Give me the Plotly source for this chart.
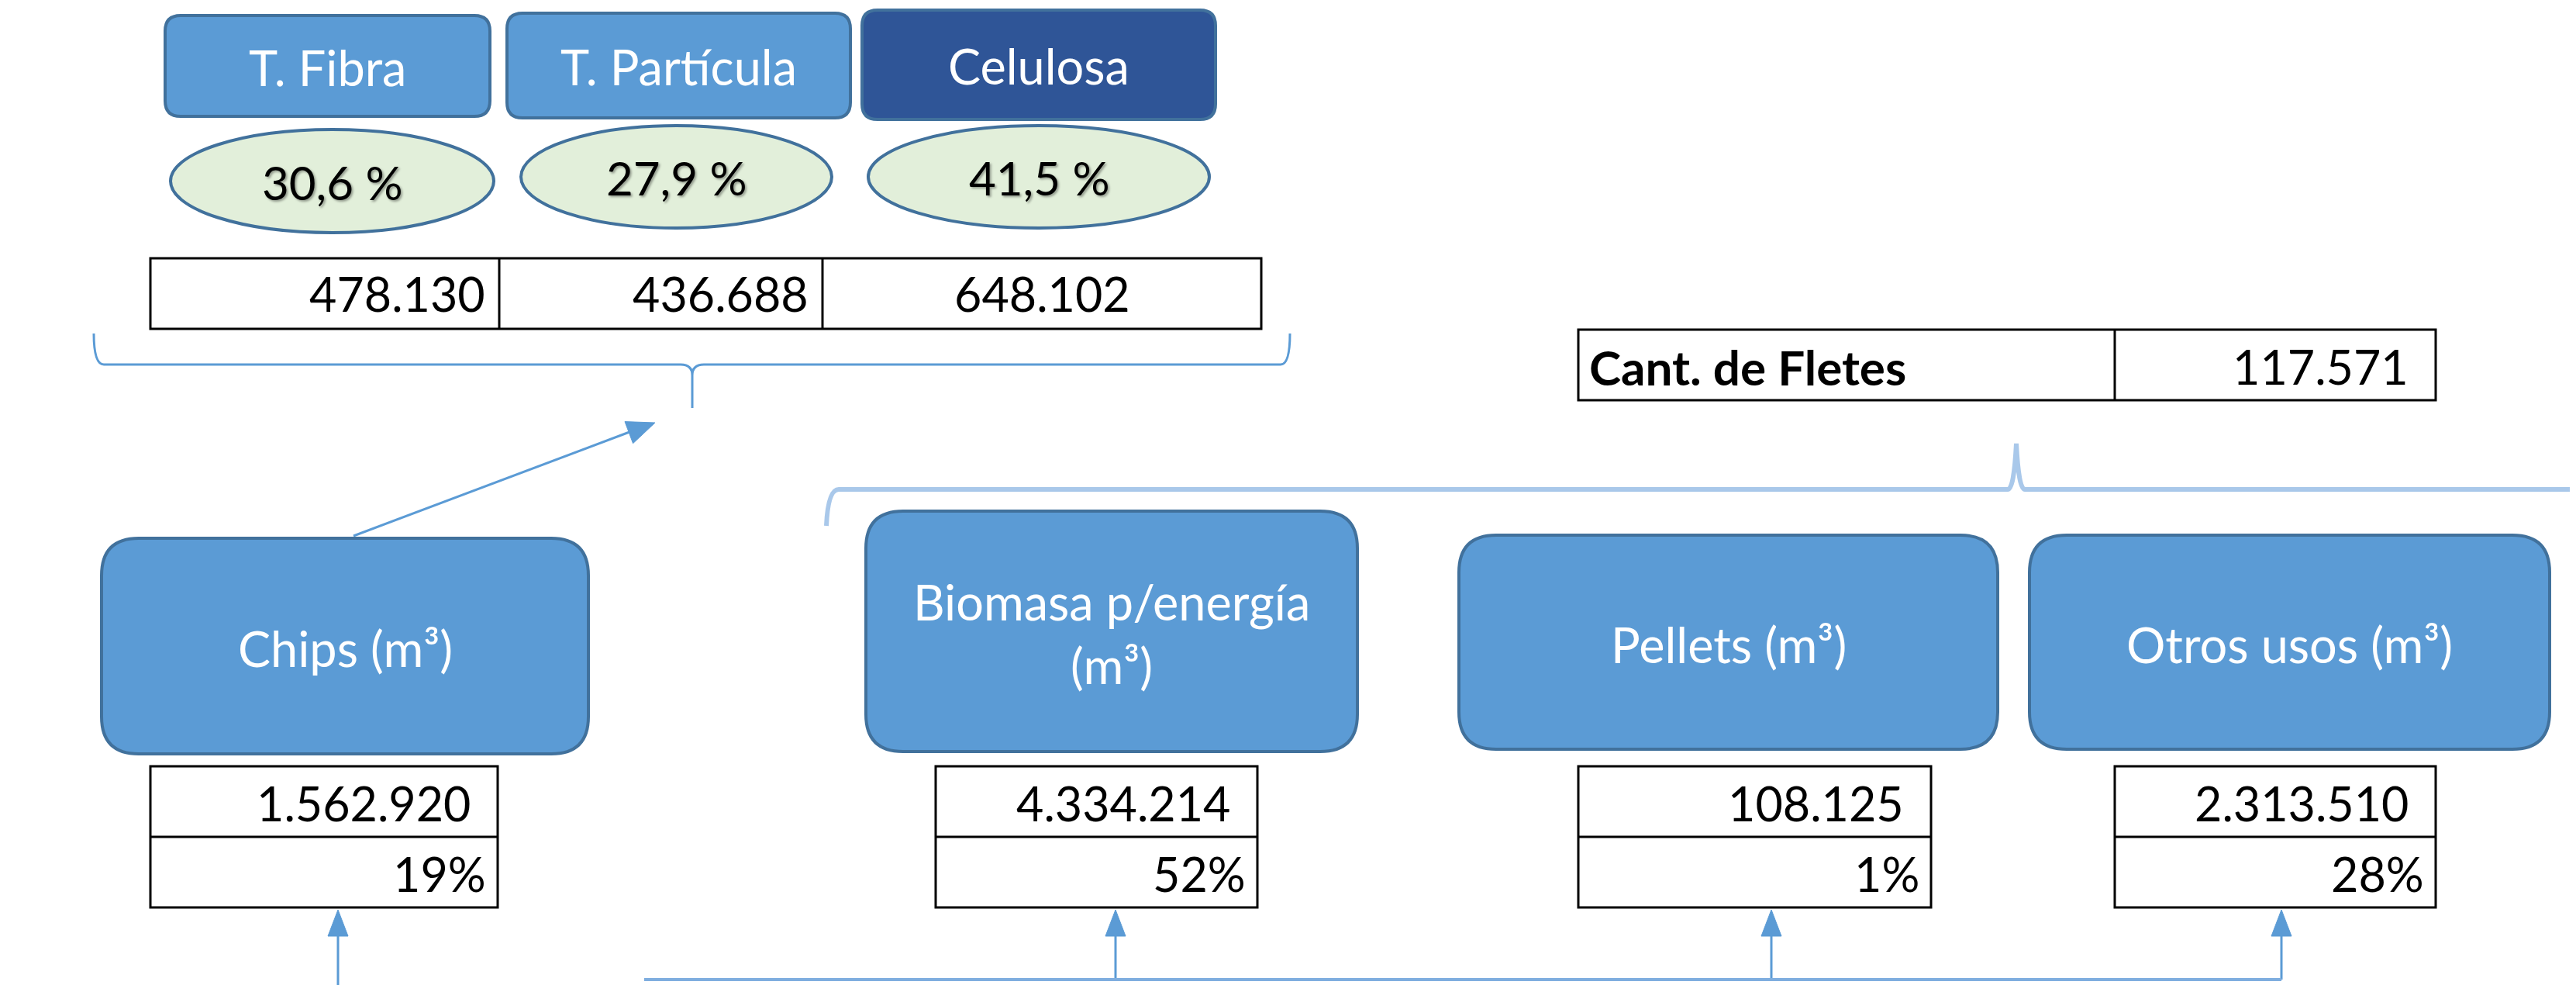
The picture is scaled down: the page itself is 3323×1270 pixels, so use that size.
import plotly.graph_objects as go

# ---------------- data ----------------
top_labels = ["T. Fibra", "T. Partícula", "Celulosa"]
top_shares = [30.6, 27.9, 41.5]            # %
top_values = [478130, 436688, 648102]      # m³
flete_label = "Cant. de Fletes"
flete_value = 117571
bottom_labels = ["Chips (m³)", "Biomasa p/energía<br>(m³)", "Pellets (m³)", "Otros usos (m³)"]
bottom_values = [1562920, 4334214, 108125, 2313510]
bottom_shares = [19, 52, 1, 28]            # %

# ---------------- helpers ----------------
W, H = 3323, 1270
OFF = 8  # default page body margin
FONT = "Lato, 'Open Sans', sans-serif"
FS_LABEL = 63
FS_NUM = 61
FS_ELL = 60
LIGHT = "#5B9BD5"
DARK = "#2F5597"
EDGE = "#41719C"
ELL_FILL = "#E2EFDA"


def thousands(v):
    return f"{v:,}".replace(",", ".")


def share_txt(v):
    return f"{v:.1f}".replace(".", ",") + " %"


def rrect(x0, y0, x1, y1, r):
    return (f"M {x0+r},{y0} L {x1-r},{y0} Q {x1},{y0} {x1},{y0+r} "
            f"L {x1},{y1-r} Q {x1},{y1} {x1-r},{y1} L {x0+r},{y1} "
            f"Q {x0},{y1} {x0},{y1-r} L {x0},{y0+r} Q {x0},{y0} {x0+r},{y0} Z")


shapes = []
ann = []


def text(x, y, s, anchor="center", color="black", size=FS_NUM, bold=False, shadow=None):
    f = dict(family=FONT, size=size, color=color)
    if bold:
        f["weight"] = "bold"
    if shadow:
        f["shadow"] = shadow
    ann.append(dict(x=x, y=y, xref="x", yref="y", text=s, showarrow=False,
                    xanchor=anchor, yanchor="middle", font=f, align="center"))


def rect(x0, y0, x1, y1, lw=3, color="black", fill="white"):
    shapes.append(dict(type="rect", x0=x0, y0=y0, x1=x1, y1=y1, xref="x", yref="y",
                       line=dict(color=color, width=lw), fillcolor=fill, layer="above"))


def line(x0, y0, x1, y1, color=LIGHT, w=3):
    shapes.append(dict(type="line", x0=x0, y0=y0, x1=x1, y1=y1, xref="x", yref="y",
                       line=dict(color=color, width=w)))


def arrowhead(tx, ty, dx, dy, length=34, half=13, color=LIGHT):
    n = (dx * dx + dy * dy) ** 0.5
    ux, uy = dx / n, dy / n
    bx, by = tx - ux * length, ty - uy * length
    px, py = -uy, ux
    p = (f"M {tx},{ty} L {bx + px*half},{by + py*half} "
         f"L {bx - px*half},{by - py*half} Z")
    shapes.append(dict(type="path", path=p, xref="x", yref="y",
                       fillcolor=color, line=dict(color=color, width=1)))


# ---------------- top boxes ----------------
top_boxes = [(213, 20, 632, 150), (654, 17, 1097, 152), (1112, 13, 1568, 154)]
top_fill = [LIGHT, LIGHT, DARK]
for (x0, y0, x1, y1), lab, fc in zip(top_boxes, top_labels, top_fill):
    shapes.append(dict(type="path", path=rrect(x0, y0, x1, y1, 20), xref="x", yref="y",
                       fillcolor=fc, line=dict(color=EDGE, width=4)))
    text((x0 + x1) / 2, (y0 + y1) / 2 + 1, lab, color="white", size=FS_LABEL)

# ellipses
ells = [(220, 167, 637, 300), (672, 162, 1073, 294), (1120, 162, 1560, 294)]
for (x0, y0, x1, y1), s in zip(ells, top_shares):
    shapes.append(dict(type="circle", x0=x0, y0=y0, x1=x1, y1=y1, xref="x", yref="y",
                       fillcolor=ELL_FILL, line=dict(color=EDGE, width=4)))
    text((x0 + x1) / 2, (y0 + y1) / 2 + 1, share_txt(s), color="black", size=FS_ELL,
         shadow="2px 2px 3px rgba(0,0,0,0.35)")

# top values table
tcols = [194, 644, 1061, 1627]
ty0, ty1 = 333, 424
rect(tcols[0], ty0, tcols[-1], ty1)
for xd in tcols[1:-1]:
    line(xd, ty0, xd, ty1, color="black", w=3)
text(tcols[1] - 16, (ty0 + ty1) / 2, thousands(top_values[0]), anchor="right")
text(tcols[2] - 16, (ty0 + ty1) / 2, thousands(top_values[1]), anchor="right")
text((tcols[2] + tcols[3]) / 2, (ty0 + ty1) / 2, thousands(top_values[2]))

# bracket 1 (under top table)
by = 470
b1 = (f"M 121,430 Q 121,{by} 134,{by} L 878,{by} Q 893,{by} 893,{by+14} L 893,526 "
      f"M 893,{by+14} Q 893,{by} 908,{by} L 1652,{by} Q 1664,{by} 1664,430")
shapes.append(dict(type="path", path=b1, xref="x", yref="y", line=dict(color=LIGHT, width=3)))

# arrow from chips to bracket
line(456, 691, 820, 554, w=3)
arrowhead(845, 545, 845 - 456, 545 - 691, length=36, half=15)

# ---------------- fletes table ----------------
fx0, fxd, fx1, fy0, fy1 = 2036, 2728, 3142, 425, 516
rect(fx0, fy0, fx1, fy1)
line(fxd, fy0, fxd, fy1, color="black", w=3)
text(fx0 + 12, (fy0 + fy1) / 2 + 2, flete_label, anchor="left", bold=True, size=62)
text(fx1 - 33, (fy0 + fy1) / 2 + 2, thousands(flete_value), anchor="right")

# bracket 2
cy = 631
b2 = (f"M 1066,678 Q 1068,{cy} 1082,{cy} L 2590,{cy} Q 2598,{cy} 2601,572 "
      f"Q 2604,{cy} 2612,{cy} L 3340,{cy}")
shapes.append(dict(type="path", path=b2, xref="x", yref="y", line=dict(color="#A9C8EA", width=6)))

# ---------------- bottom boxes ----------------
bot_boxes = [(131, 694, 759, 972), (1117, 659, 1751, 969), (1882, 690, 2577, 966), (2618, 690, 3289, 966)]
for (x0, y0, x1, y1), lab in zip(bot_boxes, bottom_labels):
    shapes.append(dict(type="path", path=rrect(x0, y0, x1, y1, 48), xref="x", yref="y",
                       fillcolor=LIGHT, line=dict(color=EDGE, width=4)))
    text((x0 + x1) / 2, (y0 + y1) / 2 + 2, lab, color="white", size=FS_LABEL)

# bottom tables
bot_tables = [(194, 642), (1207, 1622), (2036, 2491), (2728, 3142)]
ry0, rmid, ry1 = 988, 1079, 1170
for (x0, x1), v, p in zip(bot_tables, bottom_values, bottom_shares):
    rect(x0, ry0, x1, ry1)
    line(x0, rmid, x1, rmid, color="black", w=3)
    text(x1 - 33, (ry0 + rmid) / 2 + 2, thousands(v), anchor="right")
    text(x1 - 13, (rmid + ry1) / 2 + 2, f"{p}%", anchor="right")

# upward arrows
arrow_x = [436, 1439, 2285, 2943]
for i, ax in enumerate(arrow_x):
    y_start = 1280 if i == 0 else 1263
    line(ax, y_start, ax, 1200, w=3)
    arrowhead(ax, 1173, 0, -1, length=34, half=13)
line(831, 1263, 2943, 1263, color="#7FAEDF", w=4)

fig = go.Figure()
fig.update_layout(
    width=W, height=H,
    margin=dict(l=0, r=0, t=0, b=0),
    paper_bgcolor="white", plot_bgcolor="white",
    xaxis=dict(range=[OFF, W + OFF], visible=False, fixedrange=True),
    yaxis=dict(range=[H + OFF, OFF], visible=False, fixedrange=True),
    shapes=shapes, annotations=ann, showlegend=False,
)
fig.write_html("out.html")
